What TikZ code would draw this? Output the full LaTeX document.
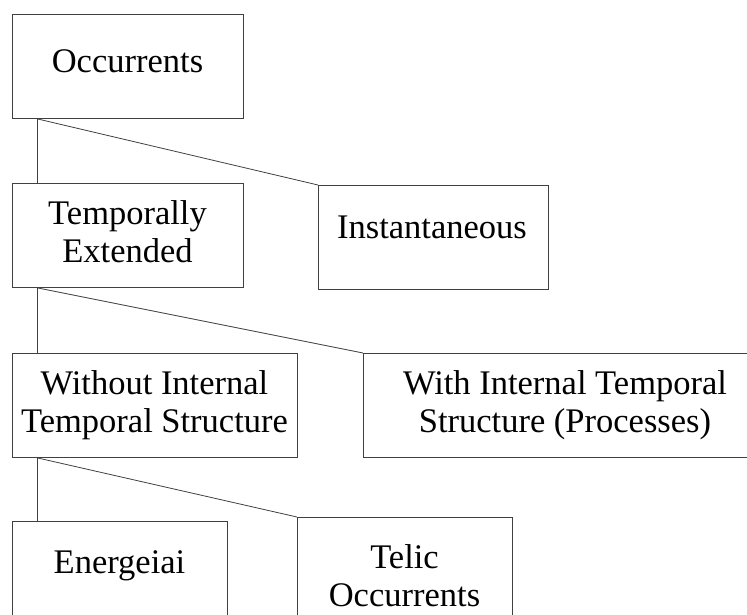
\documentclass[tikz,border=0pt]{standalone}
\usepackage{fontspec}
\setmainfont{Liberation Serif}

\begin{document}
\begin{tikzpicture}[x=1pt,y=-1pt,
  box/.style={draw=cl,line width=0.8pt,minimum width=#1,minimum height=104pt,anchor=north west,inner sep=0pt},
  txt/.style={anchor=base,align=center,inner sep=0pt,font=\fontsize{34.5}{38}\selectfont},
  edge/.style={draw=cl,line width=0.8pt}]
\definecolor{cl}{rgb}{0.25,0.25,0.25}
\useasboundingbox (0,0) rectangle (747,614);
\clip (0,0) rectangle (747,614);
%
\node[box=231pt] (occ) at (12,14) {};
\node[box=231pt] (ext) at (12,183) {};
\node[box=230pt] (inst) at (318,185) {};
\node[box=285pt] (wout) at (12,353) {};
\node[box=404pt] (with) at (363,353) {};
\node[box=215pt] (ener) at (12,521) {};
\node[box=215pt] (telic) at (297,517) {};
%
\node[txt] (occ-l) at (127.5,72) {Occurrents};
\node[txt] (ext-l) at (127.5,262) {Temporally\\Extended};
\node[txt] (inst-l) at (432,238) {Instantaneous};
\node[txt] (wout-l) at (154.5,432) {Without Internal\\Temporal Structure};
\node[txt] (with-l) at (565,432) {With Internal Temporal\\Structure (Processes)};
\node[txt] (ener-l) at (119.5,573) {Energeiai};
\node[txt] (telic-l) at (404.5,606) {Telic\\Occurrents};
%
\draw[edge] ([xshift=25pt]occ.south west) -- ([xshift=25pt]ext.north west);
\draw[edge] ([xshift=25pt]occ.south west) -- (inst.north west);
\draw[edge] ([xshift=25pt]ext.south west) -- ([xshift=25pt]wout.north west);
\draw[edge] ([xshift=25pt]ext.south west) -- (with.north west);
\draw[edge] ([xshift=25pt]wout.south west) -- ([xshift=25pt]ener.north west);
\draw[edge] ([xshift=25pt]wout.south west) -- (telic.north west);
%
\end{tikzpicture}
\end{document}
